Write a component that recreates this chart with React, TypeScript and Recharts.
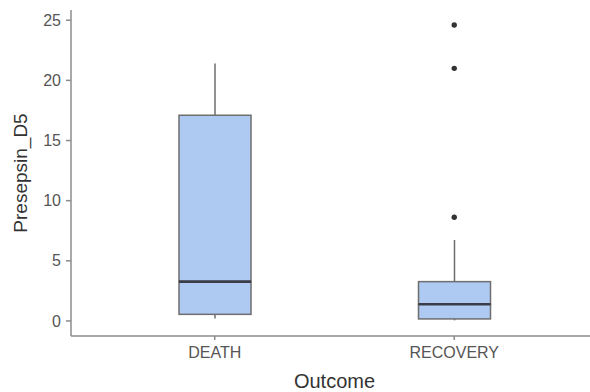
import { ComposedChart, Bar, Line, XAxis, YAxis } from "recharts";

// values
const outcomes = ["DEATH", "RECOVERY"];
const whiskerLow = [0.2, 0.05];
const q1 = [0.55, 0.17];
const median = [3.27, 1.39];
const q3 = [17.1, 3.27];
const whiskerHigh = [21.4, 6.73];
const outliers: number[][] = [[], [24.6, 21.0, 8.62]];
const yTicks = [0, 5, 10, 15, 20, 25];

const FONT = "'Liberation Sans', Arial, sans-serif";
const BOX_FILL = "#aec9f2";
const BOX_STROKE = "#6e6e6e";
const AXIS = "#8c8c8c";

const data = outcomes.map((name, i) => ({
  name,
  base: whiskerLow[i],
  lowW: q1[i] - whiskerLow[i],
  lowBox: median[i] - q1[i],
  highBox: q3[i] - median[i],
  highW: whiskerHigh[i] - q3[i],
  out1: outliers[i][0] ?? null,
  out2: outliers[i][1] ?? null,
  out3: outliers[i][2] ?? null,
}));

const Whisker = (props: any) => {
  const { x, y, width, height } = props;
  const cx = x + width / 2;
  return <line x1={cx} x2={cx} y1={y} y2={y + height} stroke={BOX_STROKE} strokeWidth={1.5} />;
};

const LowBox = (props: any) => {
  const { x, y, width, height } = props;
  return <rect x={x} y={y} width={width} height={height} fill={BOX_FILL} stroke={BOX_STROKE} strokeWidth={1.5} />;
};

// upper half of the box, with the median line on its lower edge
const HighBox = (props: any) => {
  const { x, y, width, height } = props;
  return (
    <g>
      <rect x={x} y={y} width={width} height={height} fill={BOX_FILL} stroke={BOX_STROKE} strokeWidth={1.5} />
      <line x1={x} x2={x + width} y1={y + height} y2={y + height} stroke="#3a3d48" strokeWidth={2.6} />
    </g>
  );
};

const dot = { r: 2.7, fill: "#333333", stroke: "none" };

export default function App() {
  return (
    <div style={{ position: "fixed", left: 0, top: 0, width: 590, height: 392, overflow: "hidden", background: "#fff" }}>
      <ComposedChart width={640} height={392} data={data} margin={{ top: 10, right: 0, bottom: 0, left: 0 }}>
        <XAxis
          dataKey="name"
          padding={{ left: 24, right: 66 }}
          height={56}
          axisLine={{ stroke: AXIS, strokeWidth: 1.5 }}
          tickLine={{ stroke: AXIS, strokeWidth: 1.5 }}
          tickSize={4}
          tickMargin={7}
          tick={{ fontSize: 16, fill: "#555", fontFamily: FONT }}
          label={{ value: "Outcome", position: "insideBottom", offset: 4, dx: -21, style: { fontSize: 20, fill: "#333", fontFamily: FONT } }}
        />
        <YAxis
          type="number"
          domain={[-1.25, 25.85]}
          ticks={yTicks}
          allowDataOverflow
          width={71}
          axisLine={{ stroke: AXIS, strokeWidth: 1.5 }}
          tickLine={{ stroke: AXIS, strokeWidth: 1.5 }}
          tickSize={5}
          tickMargin={5}
          tick={{ fontSize: 16, fill: "#555", fontFamily: FONT }}
          label={{
            value: "Presepsin_D5",
            angle: -90,
            position: "insideLeft",
            offset: 20,
            style: { fontSize: 19, fill: "#333", fontFamily: FONT, textAnchor: "middle" },
          }}
        />
        <Bar dataKey="base" stackId="box" fill="none" barSize={72} isAnimationActive={false} />
        <Bar dataKey="lowW" stackId="box" shape={Whisker} barSize={72} isAnimationActive={false} />
        <Bar dataKey="lowBox" stackId="box" shape={LowBox} barSize={72} isAnimationActive={false} />
        <Bar dataKey="highBox" stackId="box" shape={HighBox} barSize={72} isAnimationActive={false} />
        <Bar dataKey="highW" stackId="box" shape={Whisker} barSize={72} isAnimationActive={false} />
        <Line dataKey="out1" stroke="none" dot={dot} activeDot={false} isAnimationActive={false} />
        <Line dataKey="out2" stroke="none" dot={dot} activeDot={false} isAnimationActive={false} />
        <Line dataKey="out3" stroke="none" dot={dot} activeDot={false} isAnimationActive={false} />
      </ComposedChart>
    </div>
  );
}
